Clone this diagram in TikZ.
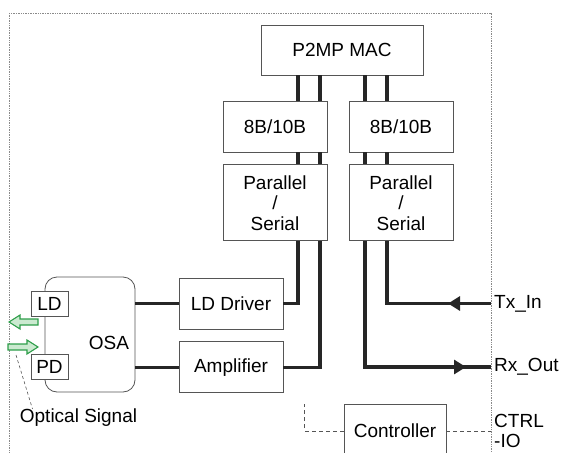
\documentclass[tikz,border=0pt]{standalone}
\usepackage{fontspec}
\setmainfont{Liberation Sans}
\usepackage{tikz}
\usetikzlibrary{arrows.meta,positioning}
\definecolor{boxline}{HTML}{555555}
\definecolor{optgreen}{HTML}{2E9E4A}
\definecolor{optfill}{HTML}{CBEAD0}
\definecolor{framegray}{HTML}{8A8A8A}
\newcommand{\boxfont}{\fontsize{19pt}{20.5pt}\selectfont}
\tikzset{
  blk/.style={
    draw=boxline, line width=0.8pt, fill=white,
    font=\boxfont, align=center, inner sep=0pt,
    minimum width=104pt, minimum height=51pt,
  },
  port/.style={blk, minimum width=37pt, minimum height=25pt},
  bus/.style={line width=3.2pt, color=black!85},
  bustip/.style={bus, -{Triangle[length=12pt,width=14pt]}},
  ctrlline/.style={draw=boxline, line width=0.6pt, dash pattern=on 4pt off 3pt},
  frame/.style={draw=framegray, line width=0.7pt, dash pattern=on 0.8pt off 0.9pt},
  optarrow/.style={draw=optgreen, fill=optfill, line width=1.1pt, line join=miter},
  lbl/.style={font=\boxfont, align=left, inner sep=3pt, anchor=west},
}

\begin{document}
\begin{tikzpicture}[x=1pt, y=-1pt]
  \useasboundingbox (0,0) rectangle (572,452);

  % module outline
  \draw[frame] (9,13) rectangle (491,475);

  % digital side
  \node[blk, minimum width=162pt, minimum height=50pt] (mac) at (342,50) {P2MP MAC};
  \node[blk] (encL) at (275,126.5) {8B/10B};
  \node[blk] (encR) at (401,126.5) {8B/10B};
  \node[blk, minimum height=76pt, below=12pt of encL] (psL) {Parallel\\/\\Serial};
  \node[blk, minimum height=76pt, below=12pt of encR] (psR) {Parallel\\/\\Serial};

  % analog side
  \node[blk] (lddrv) at (231,303.5) {LD Driver};
  \node[blk, below=12pt of lddrv] (amp) {Amplifier};
  \node[blk, rounded corners=12pt, minimum width=90pt, minimum height=115pt,
        label={[font=\boxfont, xshift=19pt, yshift=-8.5pt]center:OSA}] (osa) at (90,334.5) {};
  \node[port] (ld) at (49.5,303.5) {LD};
  \node[port] (pd) at (49.5,366.5) {PD};

  % optical in/out
  \draw[optarrow] (9,322) -- (20,315) -- (20,319) -- (38,319) -- (38,325)
    -- (20,325) -- (20,329) -- cycle;
  \draw[optarrow] (38,347) -- (27,340) -- (27,344) -- (8,344) -- (8,350)
    -- (27,350) -- (27,354) -- cycle;
  \coordinate (sigfoot) at (16,355);
  \node[font=\boxfont, inner sep=0pt] (optlbl) at (78.5,418) {Optical Signal};

  \node[blk, minimum width=102pt, minimum height=54pt] (ctrl) at (395,431) {Controller};

  % external signals
  \node[lbl] (txin) at (491,303.5) {Tx\_In};
  \node[lbl] (rxout) at (491,367) {Rx\_Out};
  \node[lbl] (ctrlio) at (491,431) {CTRL\\-IO};

  % parallel buses
  \path ([xshift=-44pt]mac.south) coordinate (b1)
        ([xshift=-22pt]mac.south) coordinate (b2)
        ([xshift=23pt]mac.south) coordinate (b3)
        ([xshift=45pt]mac.south) coordinate (b4);
  \foreach \b/\e/\p in {b1/encL/psL, b2/encL/psL, b3/encR/psR, b4/encR/psR} {
    \draw[bus] (\b) -- (\b |- \e.north);
    \draw[bus] (\b |- \e.south) -- (\b |- \p.north);
  }

  \draw[bus] (b1 |- psL.south) |- (lddrv.east);
  \draw[bus] (b2 |- psL.south) |- (amp.east);
  \draw[bus] (lddrv.west -| osa.east) -- (lddrv.west);
  \draw[bus] (amp.west -| osa.east) -- (amp.west);

  \draw[bus] (b4 |- psR.south) |- (txin.west);
  \draw[bustip] (txin.west) -- ([xshift=-43pt]txin.west);
  \draw[bus] (b3 |- psR.south) |- (rxout.west);
  \draw[bustip] (b3 |- rxout.west) -- ([xshift=-25pt]rxout.west);

  % control
  \draw[ctrlline] (ctrl.west) -| ([xshift=-39pt]ctrl.north west);
  \draw[ctrlline] (ctrl.east) -- (ctrlio.west);

  \draw[ctrlline, dash pattern=on 3pt off 2.5pt] (sigfoot) -- ([xshift=-46pt]optlbl.north);

\end{tikzpicture}
\end{document}
